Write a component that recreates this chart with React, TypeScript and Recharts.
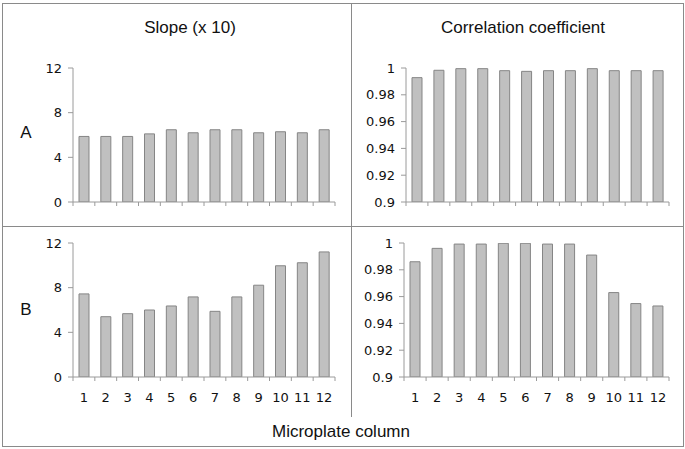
import React from "react";
import { BarChart, Bar, XAxis, YAxis } from "recharts";

const columns = [1, 2, 3, 4, 5, 6, 7, 8, 9, 10, 11, 12];

// Row A
const slopeA = [5.87, 5.87, 5.87, 6.1, 6.47, 6.2, 6.47, 6.47, 6.2, 6.29, 6.2, 6.47];
const corrA = [0.9928, 0.9983, 0.9995, 0.9995, 0.998, 0.9975, 0.998, 0.998, 0.9995, 0.998, 0.998, 0.998];

// Row B
const slopeB = [7.44, 5.4, 5.67, 6.0, 6.36, 7.17, 5.88, 7.17, 8.22, 9.96, 10.23, 11.2];
const corrB = [0.986, 0.996, 0.9992, 0.9992, 0.9998, 0.9998, 0.9992, 0.9992, 0.991, 0.963, 0.9548, 0.953];

const slopeTicks = [0, 4, 8, 12];
const corrTicks = [0.9, 0.92, 0.94, 0.96, 0.98, 1];

const FONT = '"Liberation Sans", Arial, sans-serif';
const TICK_FONT = '"DejaVu Sans", sans-serif';
const AXIS = "#9a9a9a";
const LINE = "#8a8a8a";

// ticks at column centres carry labels, ticks at the edges carry the small marks
const edges = [...columns.map((c) => c - 0.5), columns[columns.length - 1] + 0.5];
const xTicks = [...edges, ...columns].sort((a, b) => a - b);

function ColumnTick(props: any) {
  const { x, y, payload, showLabels } = props;
  const v = payload.value;
  if (Number.isInteger(v)) {
    if (!showLabels) return <g />;
    return (
      <text x={x} y={y + 25} textAnchor="middle" fontSize={13} fill="#111" fontFamily={TICK_FONT}>
        {v}
      </text>
    );
  }
  return <line x1={x} x2={x} y1={y} y2={y + 4} stroke={AXIS} strokeWidth={1} />;
}

interface PanelProps {
  values: number[];
  domain: [number, number];
  ticks: number[];
  plotLeft: number;
  plotTop: number;
  plotRight: number;
  plotBottom: number;
  showLabels: boolean;
}

function Panel({ values, domain, ticks, plotLeft, plotTop, plotRight, plotBottom, showLabels }: PanelProps) {
  const yw = 50;
  const mt = 10;
  const mr = 10;
  const xh = 34;
  const left = plotLeft - yw;
  const top = plotTop - mt;
  const width = plotRight - left + mr;
  const height = plotBottom - top + xh;
  const data = columns.map((c, i) => ({ col: c, value: values[i] }));

  return (
    <div style={{ position: "absolute", left, top }}>
      <BarChart width={width} height={height} data={data} margin={{ top: mt, right: mr, left: 0, bottom: 0 }}>
        <XAxis
          dataKey="col"
          type="number"
          domain={[0.5, 12.5]}
          ticks={xTicks}
          interval={0}
          height={xh}
          tickSize={0}
          tickMargin={0}
          tickLine={false}
          axisLine={{ stroke: AXIS }}
          tick={<ColumnTick showLabels={showLabels} />}
        />
        <YAxis
          type="number"
          domain={domain}
          ticks={ticks}
          interval={0}
          width={yw}
          allowDataOverflow
          tickSize={5}
          tickMargin={6}
          tickLine={{ stroke: AXIS }}
          axisLine={{ stroke: AXIS }}
          tick={{ fontSize: 13, fill: "#111", fontFamily: TICK_FONT }}
        />
        <Bar
          dataKey="value"
          barSize={10}
          fill="#c0c0c0"
          stroke="#858585"
          strokeWidth={1}
          isAnimationActive={false}
        />
      </BarChart>
    </div>
  );
}

function Label({ text, cx, cy, size = 17 }: { text: string; cx: number; cy: number; size?: number }) {
  return (
    <div
      style={{
        position: "absolute",
        left: cx - 150,
        top: cy - 11,
        width: 300,
        height: 22,
        lineHeight: "22px",
        textAlign: "center",
        fontSize: size,
        fontFamily: FONT,
        color: "#111",
      }}
    >
      {text}
    </div>
  );
}

export default function App() {
  return (
    <div
      style={{
        position: "absolute",
        left: 0,
        top: 0,
        width: 685,
        height: 449,
        background: "#fff",
        overflow: "hidden",
      }}
    >
      {/* frame */}
      <div style={{ position: "absolute", left: 2, top: 3, width: 680, height: 442, border: `1px solid ${LINE}` }} />
      <div style={{ position: "absolute", left: 3, top: 226, width: 680, height: 1, background: LINE }} />
      <div style={{ position: "absolute", left: 351, top: 4, width: 1, height: 413, background: LINE }} />

      <Label text="Slope (x 10)" cx={190} cy={28} />
      <Label text="Correlation coefficient" cx={523} cy={28} />
      <Label text="A" cx={26} cy={133} />
      <Label text="B" cx={26} cy={310} />
      <Label text="Microplate column" cx={341} cy={432} />

      <Panel values={slopeA} domain={[0, 12]} ticks={slopeTicks} plotLeft={73} plotTop={68} plotRight={335} plotBottom={202} showLabels={false} />
      <Panel values={corrA} domain={[0.9, 1]} ticks={corrTicks} plotLeft={406} plotTop={68} plotRight={669} plotBottom={202} showLabels={false} />
      <Panel values={slopeB} domain={[0, 12]} ticks={slopeTicks} plotLeft={73} plotTop={243} plotRight={335} plotBottom={377} showLabels={true} />
      <Panel values={corrB} domain={[0.9, 1]} ticks={corrTicks} plotLeft={404} plotTop={243} plotRight={669} plotBottom={377} showLabels={true} />
    </div>
  );
}
